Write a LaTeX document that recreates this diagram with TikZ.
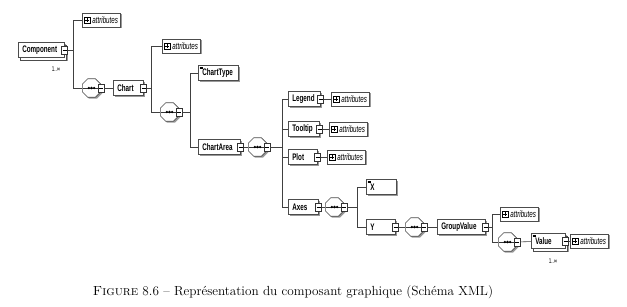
\documentclass[tikz,border=0pt]{standalone}
\usepackage{fontspec}
\newfontfamily\xsdfont[FakeStretch=0.66]{Liberation Sans}
\usetikzlibrary{shapes.geometric,shadows}

\tikzset{
  link/.style={draw=black!75, line width=0.6pt},
  shade/.style={drop shadow={shadow xshift=1.5pt, shadow yshift=-1.5pt, fill=black!40, opacity=1}},
  elem/.style={draw=black!70, fill=white, line width=0.6pt, shade,
    font=\xsdfont\bfseries\fontsize{9.5}{10}\selectfont,
    text width=#1, align=left, inner xsep=4pt, inner ysep=0pt,
    minimum height=15pt, anchor=west},
  multi/.style={drop shadow={shadow xshift=3.5pt, shadow yshift=-4pt, fill=black!40, opacity=1},
    copy shadow={shadow xshift=2pt, shadow yshift=-2.5pt, draw=black!70, fill=white}},
  simple/.style={path picture={
    \foreach \k in {1.6,2.8}
      \draw[black, line width=0.4pt] ([xshift=1.2pt,yshift=-\k pt]path picture bounding box.north west) -- ++(3pt,0);}},
  attr/.style={draw=black!70, fill=white, line width=0.6pt, shade,
    font=\xsdfont\itshape\fontsize{9.5}{10}\selectfont,
    minimum height=14pt, inner xsep=2pt, inner ysep=0pt, anchor=west,
    path picture={
      \draw[black, line width=0.5pt] ([xshift=2pt,yshift=-3pt]path picture bounding box.west) rectangle ++(6pt,6pt);
      \draw[black, line width=0.5pt] ([xshift=3pt]path picture bounding box.west) -- ++(4pt,0);
      \draw[black, line width=0.5pt] ([xshift=5pt,yshift=-2pt]path picture bounding box.west) -- ++(0,4pt);}},
  seq/.style={regular polygon, regular polygon sides=8, draw=black!70, fill=white,
    line width=0.6pt, shade, minimum size=20pt, inner sep=0pt, anchor=west,
    path picture={
      \draw[black!80, line width=0.6pt] ([xshift=1pt]path picture bounding box.west) -- ([xshift=-1pt]path picture bounding box.east);
      \foreach \d in {-2.6,0,2.6}
        \fill[black] ([xshift=\d pt]path picture bounding box.center) circle (1.3pt);}},
  minus/.style={draw=black!80, fill=white, line width=0.5pt, minimum width=6pt,
    minimum height=8pt, inner sep=0pt,
    path picture={\draw[black, line width=0.5pt] ([xshift=1pt]path picture bounding box.west) -- ([xshift=-1pt]path picture bounding box.east);}},
  occ/.style={font=\xsdfont\fontsize{7}{8}\selectfont, inner sep=0pt}
}

\begin{document}
\begin{tikzpicture}[x=1pt,y=-1pt]
\useasboundingbox (0,0) rectangle (627,307);

% Component
\node[elem=38pt, multi] (comp) at (18,50) {Component};
\node[minus] (comp-m) at (comp.east) {};
\node[occ] (comp-occ) at (56,69) {1..∞};
\node[attr] (attr1) at (82,20) {\hspace{8pt}attributes};
\node[seq] (seq1) at (82,88) {};
\node[minus] (seq1-m) at (seq1.east) {};
\coordinate (j1) at (73,50);
\draw[link] (comp-m) -- (j1);
\foreach \c in {attr1,seq1} \draw[link] (j1) |- (\c.west);

% Chart
\node[elem=22pt] (chart) at (113,88) {Chart};
\node[minus] (chart-m) at (chart.east) {};
\draw[link] (seq1-m) -- (chart);
\node[attr] (attr2) at (162,46) {\hspace{8pt}attributes};
\node[seq] (seq2) at (160,112) {};
\node[minus] (seq2-m) at (seq2.east) {};
\coordinate (j2) at (151,88);
\draw[link] (chart-m) -- (j2);
\foreach \c in {attr2,seq2} \draw[link] (j2) |- (\c.west);

% ChartType / ChartArea
\node[elem=32pt, simple] (ctype) at (198,73) {ChartType};
\node[elem=34pt] (carea) at (198,147) {ChartArea};
\node[minus] (carea-m) at (carea.east) {};
\coordinate (j3) at (190,112);
\draw[link] (seq2-m) -- (j3);
\foreach \c in {ctype,carea} \draw[link] (j3) |- (\c.west);
\node[seq] (seq3) at (248,147) {};
\node[minus] (seq3-m) at (seq3.east) {};
\draw[link] (carea-m) -- (seq3);

% children of ChartArea
\node[elem=24pt] (legend) at (288,99) {Legend};
\node[elem=23pt] (tooltip) at (288,129) {Tooltip};
\node[elem=21pt] (plot) at (288,157) {Plot};
\node[elem=22pt] (axes) at (288,207) {Axes};
\foreach \c in {legend,tooltip,plot,axes} \node[minus] (\c-m) at (\c.east) {};
\node[attr] (attr3) at (331,99) {\hspace{8pt}attributes};
\node[attr] (attr4) at (329,129) {\hspace{8pt}attributes};
\node[attr] (attr5) at (327,157) {\hspace{8pt}attributes};
\draw[link] (legend-m) -- (attr3);
\draw[link] (tooltip-m) -- (attr4);
\draw[link] (plot-m) -- (attr5);
\coordinate (j4) at (282,147);
\draw[link] (seq3-m) -- (j4);
\foreach \c in {legend,tooltip,plot,axes} \draw[link] (j4) |- (\c.west);

% Axes
\node[seq] (seq4) at (325,207) {};
\node[minus] (seq4-m) at (seq4.east) {};
\draw[link] (axes-m) -- (seq4);
\node[elem=22pt, simple] (xax) at (366,187) {X};
\node[elem=21pt] (yax) at (366,227) {Y};
\node[minus] (yax-m) at (yax.east) {};
\coordinate (j5) at (357,207);
\draw[link] (seq4-m) -- (j5);
\foreach \c in {xax,yax} \draw[link] (j5) |- (\c.west);
\node[seq] (seq5) at (405,227) {};
\node[minus] (seq5-m) at (seq5.east) {};
\draw[link] (yax-m) -- (seq5);

% GroupValue
\node[elem=40pt] (gvalue) at (437,227) {GroupValue};
\node[minus] (gvalue-m) at (gvalue.east) {};
\draw[link] (seq5-m) -- (gvalue);
\node[attr] (attr6) at (500,214) {\hspace{8pt}attributes};
\node[seq] (seq6) at (498,242) {};
\node[minus] (seq6-m) at (seq6.east) {};
\coordinate (j6) at (492,227);
\draw[link] (gvalue-m) -- (j6);
\foreach \c in {attr6,seq6} \draw[link] (j6) |- (\c.west);
\node[elem=26pt, simple, multi] (value) at (531,241) {Value};
\node[minus] (value-m) at (value.east) {};
\node[occ] (value-occ) at (553,261) {1..∞};
\draw[link] (seq6-m) -- (value);
\node[attr] (attr7) at (570,241) {\hspace{8pt}attributes};
\draw[link] (value-m) -- (attr7);

% caption
\node[font=\fontsize{13.2}{15}\selectfont] (caption) at (293,292)
  {\textsc{Figure} 8.6 -- Représentation du composant graphique (Schéma XML)};
\end{tikzpicture}
\end{document}
